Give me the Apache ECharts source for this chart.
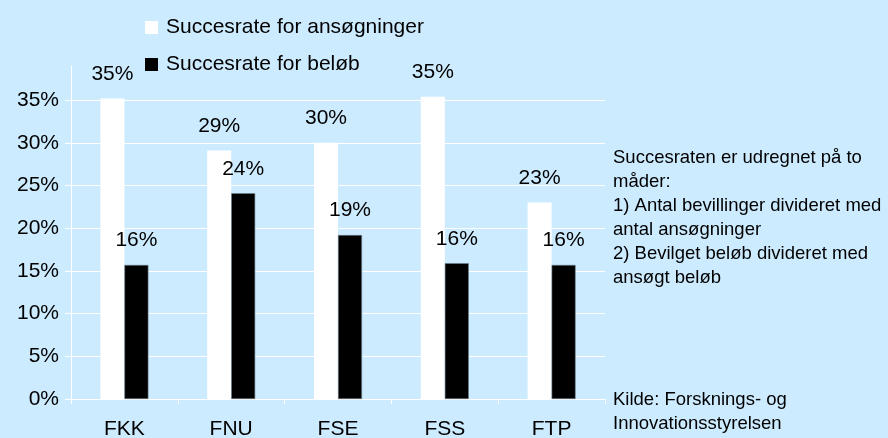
<!DOCTYPE html>
<html>
<head>
<meta charset="utf-8">
<title>Succesrate</title>
<script src="https://cdn.jsdelivr.net/npm/echarts@6/dist/echarts.min.js"></script>
<style>
  html, body { margin: 0; padding: 0; background: #cdebff; }
  #chart { width: 888px; height: 438px; }
</style>
</head>
<body>
<div id="chart"></div>
<script>
// data (percent)
var categories = ['FKK', 'FNU', 'FSE', 'FSS', 'FTP'];
var ansogninger = [35.2, 29.1, 30.0, 35.4, 23.0];
var belob = [15.7, 24.1, 19.2, 15.9, 15.7];
var seriesNames = ['Succesrate for ansøgninger', 'Succesrate for beløb'];
var noteLines = [
  'Succesraten er udregnet på to',
  'måder:',
  '1) Antal bevillinger divideret med',
  'antal ansøgninger',
  '2) Bevilget beløb divideret med',
  'ansøgt beløb'
];
var sourceLines = ['Kilde: Forsknings- og', 'Innovationsstyrelsen'];

var font = '"Liberation Sans", Arial, sans-serif';
var chart = echarts.init(document.getElementById('chart'));

var labelCfg = {
  show: true,
  position: 'top',
  distance: 14,
  color: '#000',
  fontFamily: font,
  fontSize: 21,
  formatter: function (p) { return Math.round(p.value) + '%'; }
};

var option = {
  backgroundColor: '#cdebff',
  animation: false,
  textStyle: { fontFamily: font },
  legend: {
    orient: 'vertical',
    left: 140,
    top: 12,
    itemWidth: 13,
    itemHeight: 13,
    itemGap: 16,
    icon: 'rect',
    itemStyle: { borderWidth: 0 },
    textStyle: { color: '#000', fontSize: 21, lineHeight: 21, fontFamily: font, padding: [0, 0, 0, 3] },
    data: seriesNames
  },
  grid: { left: 71, right: 283, top: 66, bottom: 39, outerBoundsMode: 'none' },
  xAxis: {
    type: 'category',
    data: categories,
    axisLine: { lineStyle: { color: '#fff', width: 1 } },
    axisTick: { show: true, length: 5, lineStyle: { color: '#fff' } },
    axisLabel: { color: '#000', fontSize: 21, fontFamily: font, margin: 20 },
    splitLine: { show: false }
  },
  yAxis: {
    type: 'value',
    min: 0,
    max: 39,
    interval: 5,
    axisLine: { show: true, lineStyle: { color: '#fff', width: 1 } },
    axisTick: { show: true, length: 6, lineStyle: { color: '#fff' } },
    axisLabel: {
      color: '#000', fontSize: 21, fontFamily: font, margin: 12,
      showMaxLabel: false,
      formatter: function (v) { return v + '%'; }
    },
    splitLine: { show: true, showMaxLine: false, lineStyle: { color: '#fff', width: 1 } }
  },
  series: [
    {
      name: seriesNames[0],
      type: 'bar',
      data: ansogninger,
      barWidth: 24,
      barGap: '0%',
      itemStyle: { color: '#ffffff' },
      label: labelCfg
    },
    {
      name: seriesNames[1],
      type: 'bar',
      data: belob,
      barWidth: 24,
      barGap: '0%',
      itemStyle: { color: '#000000', borderColor: '#6f7f8a', borderWidth: 0.6 },
      label: labelCfg
    }
  ],
  graphic: [
    {
      type: 'text',
      left: 613,
      top: 146,
      style: {
        text: noteLines.join('\n'),
        font: '18.5px ' + font,
        lineHeight: 24,
        fill: '#000'
      }
    },
    {
      type: 'text',
      left: 613,
      top: 388,
      style: {
        text: sourceLines.join('\n'),
        font: '18.5px ' + font,
        lineHeight: 24,
        fill: '#000'
      }
    }
  ]
};

chart.setOption(option);
</script>
</body>
</html>
